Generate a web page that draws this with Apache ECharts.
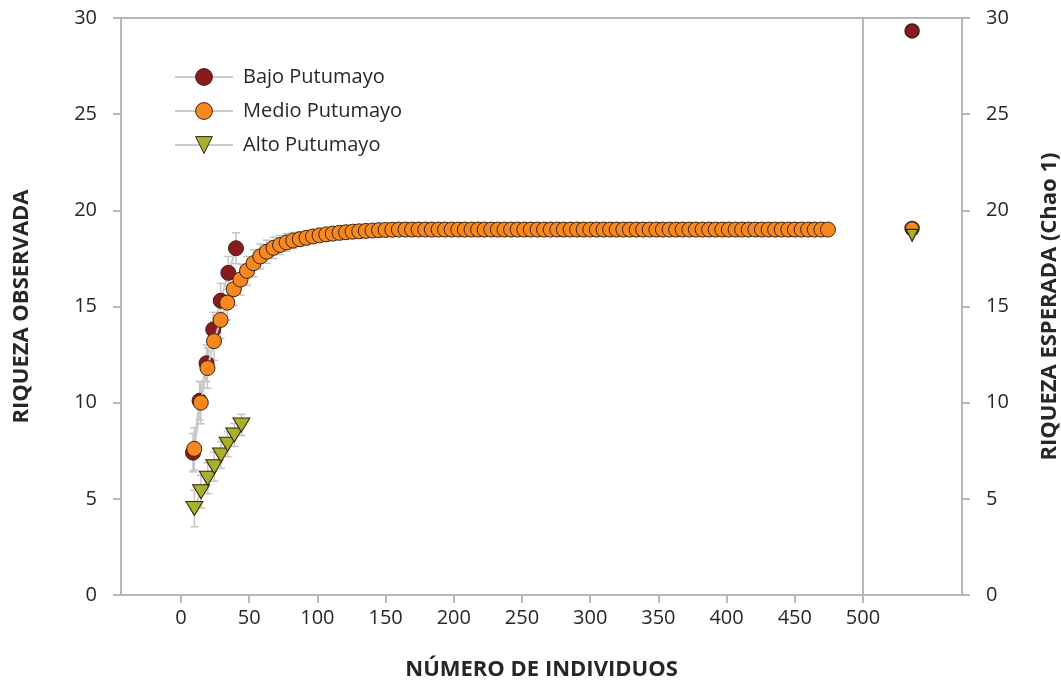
<!DOCTYPE html>
<html>
<head>
<meta charset="utf-8">
<script src="https://cdn.jsdelivr.net/npm/echarts@6/dist/echarts.min.js"></script>
<style>
  html, body { margin: 0; padding: 0; background: #ffffff; }
  #chart { width: 1061px; height: 681px; }
</style>
</head>
<body>
<div id="chart"></div>
<script>
// ---- data ----
const xTickValues = [0, 50, 100, 150, 200, 250, 300, 350, 400, 450, 500];

const bajoX = [8.8, 13.6, 18.7, 23.6, 29.1, 34.7, 40.3];
const bajoY = [7.4, 10.1, 12.05, 13.8, 15.3, 16.75, 18.03];
const bajoErr = [1.0, 1.0, 0.95, 0.9, 0.9, 0.85, 0.8];

const medioX = [9.7, 14.5, 19.4, 24.2, 29.0, 33.9, 38.7, 43.6, 48.4, 53.2,
  58.1, 62.9, 67.8, 72.6, 77.4, 82.3, 87.1, 92.0, 96.8, 101.6,
  106.5, 111.3, 116.2, 121.0, 125.8, 130.7, 135.5, 140.4, 145.2, 150.0,
  154.9, 159.7, 164.6, 169.4, 174.2, 179.1, 183.9, 188.8, 193.6, 198.4,
  203.3, 208.1, 213.0, 217.8, 222.6, 227.5, 232.3, 237.2, 242.0, 246.8,
  251.7, 256.5, 261.4, 266.2, 271.0, 275.9, 280.7, 285.6, 290.4, 295.2,
  300.1, 304.9, 309.8, 314.6, 319.4, 324.3, 329.1, 334.0, 338.8, 343.6,
  348.5, 353.3, 358.2, 363.0, 367.8, 372.7, 377.5, 382.4, 387.2, 392.0,
  396.9, 401.7, 406.6, 411.4, 416.2, 421.1, 425.9, 430.8, 435.6, 440.4,
  445.3, 450.1, 455.0, 459.8, 464.6, 469.5, 474.3];
const medioY = [7.6, 10.0, 11.8, 13.2, 14.3, 15.2, 15.9, 16.4, 16.85, 17.25,
  17.6, 17.85, 18.05, 18.2, 18.33, 18.43, 18.5, 18.57, 18.64, 18.7,
  18.75, 18.79, 18.83, 18.86, 18.89, 18.91, 18.93, 18.95, 18.97, 18.98,
  18.99, 19, 19, 19, 19, 19, 19, 19, 19, 19,
  19, 19, 19, 19, 19, 19, 19, 19, 19, 19,
  19, 19, 19, 19, 19, 19, 19, 19, 19, 19,
  19, 19, 19, 19, 19, 19, 19, 19, 19, 19,
  19, 19, 19, 19, 19, 19, 19, 19, 19, 19,
  19, 19, 19, 19, 19, 19, 19, 19, 19, 19,
  19, 19, 19, 19, 19, 19, 19];
const medioErr = [1.1, 1.1, 1.05, 1.0, 0.95, 0.9, 0.85, 0.8, 0.75, 0.7,
  0.65, 0.6, 0.55, 0.5, 0.46, 0.42, 0.38, 0.35, 0.32, 0.29,
  0.26, 0.24, 0.22, 0.2, 0.18, 0.16, 0.14, 0.12, 0.1, 0.09,
  0.08, 0, 0, 0, 0, 0, 0, 0, 0, 0,
  0, 0, 0, 0, 0, 0, 0, 0, 0, 0,
  0, 0, 0, 0, 0, 0, 0, 0, 0, 0,
  0, 0, 0, 0, 0, 0, 0, 0, 0, 0,
  0, 0, 0, 0, 0, 0, 0, 0, 0, 0,
  0, 0, 0, 0, 0, 0, 0, 0, 0, 0,
  0, 0, 0, 0, 0, 0, 0];

const altoX = [9.8, 14.7, 19.6, 24.4, 29.3, 34.2, 39.1, 44.3];
const altoY = [4.5, 5.37, 6.07, 6.67, 7.28, 7.84, 8.32, 8.84];
const altoErr = [0.95, 0.85, 0.8, 0.75, 0.7, 0.65, 0.6, 0.55];

const chaoX = 536;
const chaoBajo = 29.33;
const chaoMedio = 19.05;
const chaoAlto = 18.7;

// ---- styles ----
const AXIS_GRAY = '#b8b8b8';
const TEXT = '#2a2627';
const RED = '#8a1a1d';
const ORANGE = '#f7871f';
const GREEN = '#a6b22a';
const OUTLINE = '#3a2414';
const LINE_GRAY = '#cacaca';
const FONT = '"Open Sans", sans-serif';

function pts(xs, ys) { return xs.map((x, i) => [x, ys[i]]); }
function errPts(xs, ys, es) { return xs.map((x, i) => [x, ys[i], es[i]]); }

function errRender(params, api) {
  const x = api.value(0), y = api.value(1), e = api.value(2);
  if (!e) return null;
  const lo = api.coord([x, y - e]);
  const hi = api.coord([x, y + e]);
  const w = 4;
  const style = { stroke: '#c4c4c4', lineWidth: 1.5 };
  return {
    type: 'group',
    children: [
      { type: 'line', shape: { x1: lo[0], y1: lo[1], x2: hi[0], y2: hi[1] }, style },
      { type: 'line', shape: { x1: lo[0] - w, y1: lo[1], x2: lo[0] + w, y2: lo[1] }, style },
      { type: 'line', shape: { x1: hi[0] - w, y1: hi[1], x2: hi[0] + w, y2: hi[1] }, style }
    ]
  };
}

const chart = echarts.init(document.getElementById('chart'), null, { renderer: 'canvas' });

const yAxisCommon = {
  type: 'value', min: 0, max: 30, interval: 5,
  axisLine: { show: true, onZero: false, lineStyle: { color: AXIS_GRAY, width: 2 } },
  axisTick: { show: true, length: 8, lineStyle: { color: AXIS_GRAY, width: 2 } },
  splitLine: { show: false },
  axisLabel: { color: TEXT, fontSize: 20, fontFamily: FONT, margin: 24 },
  nameLocation: 'middle', nameRotate: 90,
  nameTextStyle: { color: TEXT, fontSize: 22, fontWeight: 'bold', fontFamily: FONT }
};

const option = {
  animation: false,
  backgroundColor: '#ffffff',
  grid: {
    left: 121, right: 99, top: 18, bottom: 86,
    containLabel: false, outerBoundsMode: 'none',
    show: true, borderColor: AXIS_GRAY, borderWidth: 2, backgroundColor: 'transparent'
  },
  legend: {
    data: ['Bajo Putumayo', 'Medio Putumayo', 'Alto Putumayo'],
    orient: 'vertical',
    left: 169, top: 61,
    itemWidth: 58, itemHeight: 21,
    itemGap: 12,
    itemStyle: { borderWidth: 1 },
    textStyle: { color: TEXT, fontSize: 20, fontFamily: FONT, lineHeight: 22, padding: [0, 0, 0, 5] }
  },
  xAxis: {
    type: 'value', min: -44, max: 572.6,
    axisLine: { show: true, onZero: false, lineStyle: { color: AXIS_GRAY, width: 2 } },
    axisTick: { show: true, length: 8, customValues: xTickValues, lineStyle: { color: AXIS_GRAY, width: 2 } },
    axisLabel: { customValues: xTickValues, color: TEXT, fontSize: 20, fontFamily: FONT, margin: 13 },
    splitLine: { show: false },
    name: 'NÚMERO DE INDIVIDUOS',
    nameLocation: 'middle', nameGap: 64,
    nameTextStyle: { color: TEXT, fontSize: 22, fontWeight: 'bold', fontFamily: FONT }
  },
  yAxis: [
    Object.assign({}, yAxisCommon, { position: 'left', name: 'RIQUEZA OBSERVADA', nameGap: 88 }),
    Object.assign({}, yAxisCommon, { position: 'right', name: 'RIQUEZA ESPERADA (Chao 1)', nameGap: 77 })
  ],
  series: [
    { type: 'custom', name: 'errBajo', renderItem: errRender, data: errPts(bajoX, bajoY, bajoErr), z: 1, silent: true },
    { type: 'custom', name: 'errMedio', renderItem: errRender, data: errPts(medioX, medioY, medioErr), z: 1, silent: true },
    { type: 'custom', name: 'errAlto', renderItem: errRender, data: errPts(altoX, altoY, altoErr), z: 1, silent: true },
    {
      type: 'line', name: 'Bajo Putumayo', data: pts(bajoX, bajoY), z: 2,
      symbol: 'circle', symbolSize: 15, showAllSymbol: true,
      lineStyle: { color: LINE_GRAY, width: 2 },
      itemStyle: { color: RED, borderColor: OUTLINE, borderWidth: 1 },
      markLine: {
        silent: true, symbol: 'none', label: { show: false },
        lineStyle: { color: AXIS_GRAY, width: 2, type: 'solid' },
        data: [{ xAxis: 500 }]
      }
    },
    {
      type: 'line', name: 'Medio Putumayo', data: pts(medioX, medioY), z: 3,
      symbol: 'circle', symbolSize: 15, showAllSymbol: true,
      lineStyle: { color: LINE_GRAY, width: 2 },
      itemStyle: { color: ORANGE, borderColor: OUTLINE, borderWidth: 1 }
    },
    {
      type: 'line', name: 'Alto Putumayo', data: pts(altoX, altoY), z: 4,
      symbol: 'triangle', symbolSize: [17, 14], symbolRotate: 180, showAllSymbol: true,
      lineStyle: { color: LINE_GRAY, width: 2 },
      itemStyle: { color: GREEN, borderColor: OUTLINE, borderWidth: 1 }
    },
    {
      type: 'scatter', name: 'Chao Bajo', yAxisIndex: 1, data: [[chaoX, chaoBajo]], z: 5,
      symbol: 'circle', symbolSize: 14,
      itemStyle: { color: RED, borderColor: OUTLINE, borderWidth: 1.5, opacity: 1 }
    },
    {
      type: 'scatter', name: 'Chao Medio', yAxisIndex: 1, data: [[chaoX, chaoMedio]], z: 5,
      symbol: 'circle', symbolSize: 14,
      itemStyle: { color: ORANGE, borderColor: OUTLINE, borderWidth: 1.5, opacity: 1 }
    },
    {
      type: 'scatter', name: 'Chao Alto', yAxisIndex: 1, data: [[chaoX, chaoAlto]], z: 6,
      symbol: 'triangle', symbolSize: [12, 12], symbolRotate: 180,
      itemStyle: { color: GREEN, borderColor: OUTLINE, borderWidth: 1.2, opacity: 1 }
    }
  ]
};

chart.setOption(option);
</script>
</body>
</html>
